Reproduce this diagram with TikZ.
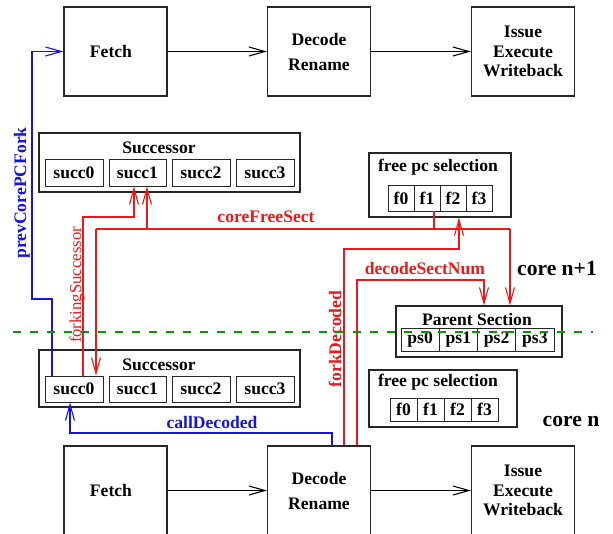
\documentclass[tikz,border=0pt]{standalone}
\usepackage{fontspec}
\setmainfont{Liberation Serif}
\usetikzlibrary{arrows.meta}
\definecolor{cblue}{RGB}{20,20,220}
\definecolor{cred}{RGB}{235,25,25}
\definecolor{cgreen}{RGB}{10,150,10}
\newcommand\bfnt{\bfseries\fontsize{17.6}{19.5}\selectfont}
\newcommand\rgfnt{\fontsize{16.7}{19}\selectfont}
\newcommand\corefnt{\bfseries\fontsize{21.6}{24}\selectfont}
\begin{document}
\begin{tikzpicture}[x=1pt,y=-1pt,
  stage/.style={draw=black!85,line width=1.1pt,minimum width=103pt,minimum height=89pt,inner sep=0pt,align=center,font=\bfnt},
  grp/.style={draw=black!85,line width=1.1pt,inner sep=0pt},
  cell/.style={draw=black!85,line width=0.9pt,inner sep=0pt,font=\bfnt},
  ttl/.style={inner sep=0pt,font=\bfnt},
  arr/.style={-{Straight Barb[length=16pt,width=9pt,line width=1.1pt]}},
  con/.style={line width=1.1pt},
  corelbl/.style={inner sep=0pt,font=\corefnt},
]
\fill[white] (0,0) rectangle (613,533);
\path[use as bounding box] (0,0) rectangle (613,533);
\clip (0,0) rectangle (613,533);

% pipeline stages, core n+1
\node[stage] (tF) at (115.5,51.5) {Fetch\hspace*{9pt}};
\node[stage] (tD) at (319,51.5) {Decode\\[5.5pt]Rename};
\node[stage] (tI) at (523,51.5) {Issue\\Execute\\Writeback};
% pipeline stages, core n
\node[stage] (bF) at (115.5,490.5) {Fetch\hspace*{9pt}};
\node[stage] (bD) at (319,490.5) {Decode\\[5.5pt]Rename};
\node[stage] (bI) at (523,490.5) {Issue\\Execute\\Writeback};

\draw[con,arr] (tF) -- (tD);
\draw[con,arr] (tD) -- (tI);
\draw[con,arr] (bF) -- (bD);
\draw[con,arr] (bD) -- (bI);

% Successor, core n+1
\node[grp,minimum width=261pt,minimum height=59pt] (tsg) at (169.5,162.5) {};
\node[ttl] (tst) at (159,148) {Successor};
\node[cell,minimum width=58pt,minimum height=27pt] (ts0) at (74,172.5) {succ0};
\node[cell,minimum width=57pt,minimum height=27pt] (ts1) at (137.5,172.5) {succ1};
\node[cell,minimum width=58pt,minimum height=27pt] (ts2) at (201,172.5) {succ2};
\node[cell,minimum width=58pt,minimum height=27pt] (ts3) at (265,172.5) {succ3};

% Successor, core n
\node[grp,minimum width=261pt,minimum height=57pt] (bsg) at (169.5,378.5) {};
\node[ttl] (bst) at (159,365) {Successor};
\node[cell,minimum width=58pt,minimum height=26pt] (bs0) at (74,389) {succ0};
\node[cell,minimum width=57pt,minimum height=26pt] (bs1) at (137.5,389) {succ1};
\node[cell,minimum width=58pt,minimum height=26pt] (bs2) at (201,389) {succ2};
\node[cell,minimum width=58pt,minimum height=26pt] (bs3) at (265,389) {succ3};

% free pc selection, core n+1
\node[grp,minimum width=142pt,minimum height=64pt] (tfp) at (440,185) {};
\node[ttl] (tfpt) at (438,167) {free pc selection};
\node[cell,minimum width=26pt,minimum height=26pt] (tf0) at (401,198) {f0};
\node[cell,minimum width=26pt,minimum height=26pt] (tf1) at (427,198) {f1};
\node[cell,minimum width=26pt,minimum height=26pt] (tf2) at (453,198) {f2};
\node[cell,minimum width=26pt,minimum height=26pt] (tf3) at (479,198) {f3};

% Parent Section
\node[grp,minimum width=166pt,minimum height=51pt] (par) at (479,331.5) {};
\node[ttl] (part) at (477,319) {Parent Section};
\node[cell,minimum width=38.25pt,minimum height=23pt] (ps0) at (420.1,339.5) {ps0};
\node[cell,minimum width=38.25pt,minimum height=23pt] (ps1) at (458.4,339.5) {ps1};
\node[cell,minimum width=38.25pt,minimum height=23pt] (ps2) at (496.6,339.5) {ps2};
\node[cell,minimum width=38.25pt,minimum height=23pt] (ps3) at (534.9,339.5) {ps3};

% free pc selection, core n
\node[grp,minimum width=148pt,minimum height=57pt] (bfp) at (443,398.5) {};
\node[ttl] (bfpt) at (438,382) {free pc selection};
\node[cell,minimum width=27pt,minimum height=23pt] (bf0) at (403.5,409.5) {f0};
\node[cell,minimum width=27pt,minimum height=23pt] (bf1) at (430.5,409.5) {f1};
\node[cell,minimum width=27pt,minimum height=23pt] (bf2) at (457.5,409.5) {f2};
\node[cell,minimum width=27pt,minimum height=23pt] (bf3) at (484.5,409.5) {f3};

% blue connectors
\draw[con,cblue,arr] (bs0.north -| 52,0) |- (32,299) |- (tF.west);
\draw[con,cblue,arr] (bD.north -| 332,0) |- (70,433) -- (bs0.south -| 70,0);

% red connectors
\draw[con,cred,arr] (bs0.north -| 83,0) |- (134,217) -- (ts1.south -| 134,0);
\coordinate (cfs) at (434,229);
\coordinate (cfl) at (96,229);
\coordinate (cfu) at (147,229);
\coordinate (cfr) at (510,229);
\draw[con,cred] (tf1.south -| 434,0) -- (cfs);
\draw[con,cred] (cfl) -- (cfr);
\draw[con,cred,arr] (cfu) -- (ts1.south -| 147,0);
\draw[con,cred,arr] (cfl) -- (bs0.north -| 96,0);
\draw[con,cred,arr] (cfr) -- (par.north -| 510,0);
\draw[con,cred,arr] (bD.north -| 344,0) |- (459,249) -- (tfp.south -| 459,0);
\draw[con,cred,arr] (bD.north -| 357,0) |- (484,280) -- (par.north -| 484,0);

% labels
\node[inner sep=0pt,rotate=90,cblue,font=\bfnt] (lprev) at (22,193) {prevCorePCFork};
\node[inner sep=0pt,rotate=90,cred,font=\rgfnt] (lfs) at (77,285) {forkingSuccessor};
\node[inner sep=0pt,cred,font=\bfnt] (lcfs) at (266,217) {coreFreeSect};
\node[inner sep=0pt,cred,font=\bfnt] (ldsn) at (425,268) {decodeSectNum};
\node[inner sep=0pt,rotate=90,cred,font=\bfnt] (lfd) at (335,339) {forkDecoded};
\node[inner sep=0pt,cblue,font=\bfnt] (lcd) at (212,422) {callDecoded};
\node[corelbl] (cn1) at (557,268) {core n+1};
\node[corelbl] (cn) at (571,421) {core n};

% core boundary
\draw[cgreen,line width=1.7pt,dash pattern=on 8pt off 9pt] (13,332) -- (593,332);
\end{tikzpicture}
\end{document}
